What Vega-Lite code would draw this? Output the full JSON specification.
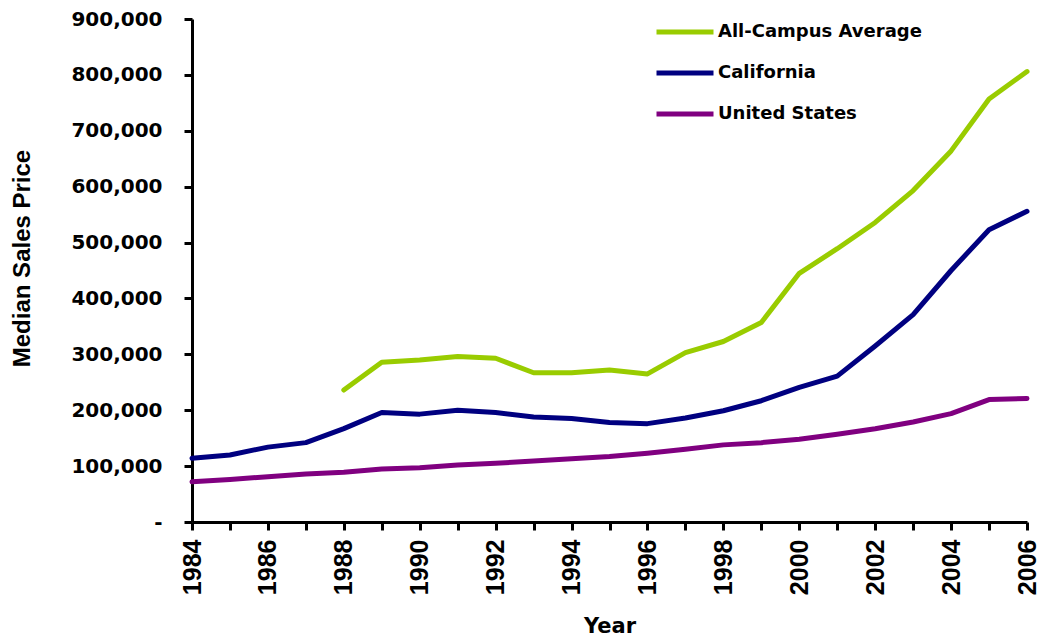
{
  "$schema": "https://vega.github.io/schema/vega-lite/v6.json",
  "width": 835,
  "height": 503,
  "autosize": {"type": "none"},
  "padding": {"left": 192, "top": 19, "right": 12, "bottom": 122},
  "background": "white",
  "config": {
    "view": {"stroke": null},
    "axis": {"grid": false, "domainColor": "black", "domainWidth": 3, "tickColor": "black", "tickWidth": 3, "tickSize": 8, "labelColor": "black", "titleColor": "black"}
  },
  "data": {
    "values": [
      {"Year": 1988, "Series": "All-Campus Average", "Price": 236000},
      {"Year": 1989, "Series": "All-Campus Average", "Price": 286000},
      {"Year": 1990, "Series": "All-Campus Average", "Price": 290000},
      {"Year": 1991, "Series": "All-Campus Average", "Price": 296000},
      {"Year": 1992, "Series": "All-Campus Average", "Price": 293000},
      {"Year": 1993, "Series": "All-Campus Average", "Price": 267000},
      {"Year": 1994, "Series": "All-Campus Average", "Price": 267000},
      {"Year": 1995, "Series": "All-Campus Average", "Price": 272000},
      {"Year": 1996, "Series": "All-Campus Average", "Price": 265000},
      {"Year": 1997, "Series": "All-Campus Average", "Price": 303000},
      {"Year": 1998, "Series": "All-Campus Average", "Price": 323000},
      {"Year": 1999, "Series": "All-Campus Average", "Price": 357000},
      {"Year": 2000, "Series": "All-Campus Average", "Price": 445000},
      {"Year": 2001, "Series": "All-Campus Average", "Price": 489000},
      {"Year": 2002, "Series": "All-Campus Average", "Price": 536000},
      {"Year": 2003, "Series": "All-Campus Average", "Price": 593000},
      {"Year": 2004, "Series": "All-Campus Average", "Price": 664000},
      {"Year": 2005, "Series": "All-Campus Average", "Price": 757000},
      {"Year": 2006, "Series": "All-Campus Average", "Price": 806000},
      {"Year": 1984, "Series": "California", "Price": 114000},
      {"Year": 1985, "Series": "California", "Price": 120000},
      {"Year": 1986, "Series": "California", "Price": 134000},
      {"Year": 1987, "Series": "California", "Price": 142000},
      {"Year": 1988, "Series": "California", "Price": 167000},
      {"Year": 1989, "Series": "California", "Price": 196000},
      {"Year": 1990, "Series": "California", "Price": 193000},
      {"Year": 1991, "Series": "California", "Price": 200000},
      {"Year": 1992, "Series": "California", "Price": 196000},
      {"Year": 1993, "Series": "California", "Price": 188000},
      {"Year": 1994, "Series": "California", "Price": 185000},
      {"Year": 1995, "Series": "California", "Price": 178000},
      {"Year": 1996, "Series": "California", "Price": 176000},
      {"Year": 1997, "Series": "California", "Price": 186000},
      {"Year": 1998, "Series": "California", "Price": 199000},
      {"Year": 1999, "Series": "California", "Price": 217000},
      {"Year": 2000, "Series": "California", "Price": 241000},
      {"Year": 2001, "Series": "California", "Price": 261000},
      {"Year": 2002, "Series": "California", "Price": 315000},
      {"Year": 2003, "Series": "California", "Price": 371000},
      {"Year": 2004, "Series": "California", "Price": 450000},
      {"Year": 2005, "Series": "California", "Price": 523000},
      {"Year": 2006, "Series": "California", "Price": 556000},
      {"Year": 1984, "Series": "United States", "Price": 72000},
      {"Year": 1985, "Series": "United States", "Price": 76000},
      {"Year": 1986, "Series": "United States", "Price": 81000},
      {"Year": 1987, "Series": "United States", "Price": 86000},
      {"Year": 1988, "Series": "United States", "Price": 89000},
      {"Year": 1989, "Series": "United States", "Price": 95000},
      {"Year": 1990, "Series": "United States", "Price": 97000},
      {"Year": 1991, "Series": "United States", "Price": 102000},
      {"Year": 1992, "Series": "United States", "Price": 105000},
      {"Year": 1993, "Series": "United States", "Price": 109000},
      {"Year": 1994, "Series": "United States", "Price": 113000},
      {"Year": 1995, "Series": "United States", "Price": 117000},
      {"Year": 1996, "Series": "United States", "Price": 123000},
      {"Year": 1997, "Series": "United States", "Price": 130000},
      {"Year": 1998, "Series": "United States", "Price": 138000},
      {"Year": 1999, "Series": "United States", "Price": 142000},
      {"Year": 2000, "Series": "United States", "Price": 148000},
      {"Year": 2001, "Series": "United States", "Price": 157000},
      {"Year": 2002, "Series": "United States", "Price": 167000},
      {"Year": 2003, "Series": "United States", "Price": 179000},
      {"Year": 2004, "Series": "United States", "Price": 194000},
      {"Year": 2005, "Series": "United States", "Price": 219000},
      {"Year": 2006, "Series": "United States", "Price": 221000}
    ]
  },
  "mark": {"type": "line", "strokeWidth": 5, "strokeCap": "round", "strokeJoin": "round"},
  "encoding": {
    "x": {
      "field": "Year", "type": "quantitative",
      "scale": {"domain": [1984, 2006], "nice": false, "zero": false},
      "axis": {
        "title": "Year",
        "values": [1984,1985,1986,1987,1988,1989,1990,1991,1992,1993,1994,1995,1996,1997,1998,1999,2000,2001,2002,2003,2004,2005,2006],
        "labelExpr": "datum.value % 2 == 0 ? '' + datum.value : ''",
        "labelAngle": -90,
        "labelOverlap": false,
        "labelFlush": false,
        "labelFont": "Liberation Sans", "labelFontWeight": "bold", "labelFontSize": 25,
        "labelPadding": 9,
        "titleFont": "DejaVu Sans", "titleFontWeight": "bold", "titleFontSize": 21,
        "titlePadding": 21
      }
    },
    "y": {
      "field": "Price", "type": "quantitative",
      "scale": {"domain": [0, 900000], "nice": false},
      "axis": {
        "title": "Median Sales Price",
        "values": [0,100000,200000,300000,400000,500000,600000,700000,800000,900000],
        "labelExpr": "datum.value == 0 ? '-' : format(datum.value, ',')",
        "labelFont": "DejaVu Sans", "labelFontWeight": "bold", "labelFontSize": 20,
        "labelPadding": 22,
        "titleFont": "Liberation Sans", "titleFontWeight": "bold", "titleFontSize": 24,
        "titlePadding": 36,
        "titleY": 239
      }
    },
    "color": {
      "field": "Series", "type": "nominal",
      "scale": {"domain": ["All-Campus Average", "California", "United States"], "range": ["#99CC00", "#000080", "#800080"]},
      "legend": {
        "title": null,
        "orient": "none",
        "legendX": 462,
        "legendY": -18,
        "symbolType": "stroke",
        "symbolSize": 3249,
        "symbolStrokeWidth": 5,
        "labelFont": "DejaVu Sans", "labelFontWeight": "bold", "labelFontSize": 18,
        "labelColor": "black",
        "labelLimit": 400,
        "labelOffset": 2,
        "rowPadding": -2
      }
    }
  }
}
